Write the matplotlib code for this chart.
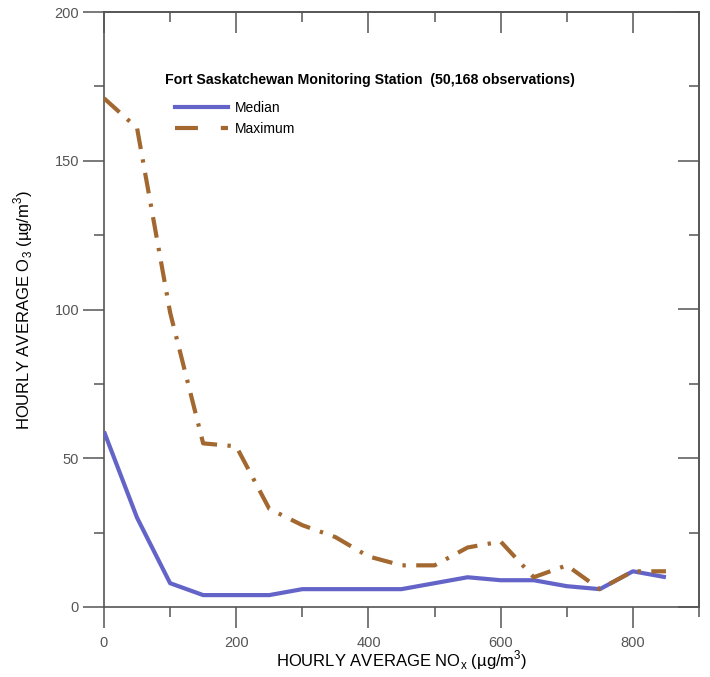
import matplotlib
matplotlib.use("Agg")
import matplotlib.pyplot as plt
from matplotlib.lines import Line2D
from matplotlib.ticker import MultipleLocator

plt.rcParams['font.family'] = ['Liberation Sans', 'DejaVu Sans']
plt.rcParams['mathtext.fontset'] = 'custom'
plt.rcParams['mathtext.rm'] = 'Liberation Sans'

# NOx bins (ug/m3)
nox = [0, 50, 100, 150, 200, 250, 300, 350, 400, 450, 500, 550, 600, 650, 700, 750, 800, 850]
# O3 median and maximum (ug/m3)
o3_median = [59, 30, 8, 4, 4, 4, 6, 6, 6, 6, 8, 10, 9, 9, 7, 6, 12, 10]
o3_max = [171, 161, 99, 55, 54, 33, 27.5, 23.5, 17, 14, 14, 20, 22, 10, 14, 6, 12, 12]

title = "Fort Saskatchewan Monitoring Station  (50,168 observations)"

c_med = '#6464C8'
c_max = '#A2682F'
spine_c = '#555555'

fig = plt.figure(figsize=(7.1, 6.77), dpi=100)
ax = fig.add_axes([104/710, 70/677, 595/710, 595/677])

ax.plot(nox, o3_median, color=c_med, lw=3, solid_capstyle='butt', zorder=3)
ax.plot(nox, o3_max, color=c_max, lw=3, linestyle=(0, (5, 2.5, 0.8, 2.5)),
        dash_capstyle='butt', zorder=3)

ax.set_xlim(0, 900)
ax.set_ylim(0, 200)
ax.xaxis.set_major_locator(MultipleLocator(200))
ax.xaxis.set_minor_locator(MultipleLocator(100))
ax.yaxis.set_major_locator(MultipleLocator(50))
ax.yaxis.set_minor_locator(MultipleLocator(25))
ax.set_xticks([0, 200, 400, 600, 800])

for s in ax.spines.values():
    s.set_color(spine_c)
    s.set_linewidth(1.2)

ax.tick_params(which='major', direction='out', length=15, width=1.1, color=spine_c,
               labelsize=10.5, labelcolor='#555555', pad=3)
ax.tick_params(which='minor', direction='out', length=7.5, width=1.1, color=spine_c)
ax.tick_params(axis='x', pad=6)

top = ax.secondary_xaxis('top')
top.xaxis.set_major_locator(MultipleLocator(200))
top.xaxis.set_minor_locator(MultipleLocator(100))
top.tick_params(which='major', direction='in', length=15, width=1.1, color=spine_c, labeltop=False)
top.tick_params(which='minor', direction='in', length=7.5, width=1.1, color=spine_c)
top.spines['top'].set_color(spine_c)
top.spines['top'].set_linewidth(1.2)

right = ax.secondary_yaxis('right')
right.yaxis.set_major_locator(MultipleLocator(50))
right.yaxis.set_minor_locator(MultipleLocator(25))
right.tick_params(which='major', direction='in', length=15, width=1.1, color=spine_c, labelright=False)
right.tick_params(which='minor', direction='in', length=7.5, width=1.1, color=spine_c)
right.spines['right'].set_color(spine_c)
right.spines['right'].set_linewidth(1.2)

ax.set_xlabel('HOURLY AVERAGE NO$_\\mathregular{x}$ (\u00b5g/m$^\\mathregular{3}$)', fontsize=12, labelpad=-1)
ax.set_ylabel('HOURLY AVERAGE O$_\\mathregular{3}$ (\u00b5g/m$^\\mathregular{3}$)', fontsize=12, labelpad=14)

ax.text(0.447, 0.886, title, transform=ax.transAxes, ha='center', va='center',
        fontsize=10.2, fontweight='bold')

handles = [Line2D([], [], color=c_med, lw=3),
           Line2D([], [], color=c_max, lw=3, linestyle=(0, (5.5, 5.5)))]
ax.legend(handles, ['Median', 'Maximum'], loc='upper left', bbox_to_anchor=(0.119, 0.85),
          frameon=False, borderpad=0, borderaxespad=0, handlelength=3.8,
          handletextpad=0.5, labelspacing=0.5, fontsize=10)

fig.savefig('out.png', dpi=100)
